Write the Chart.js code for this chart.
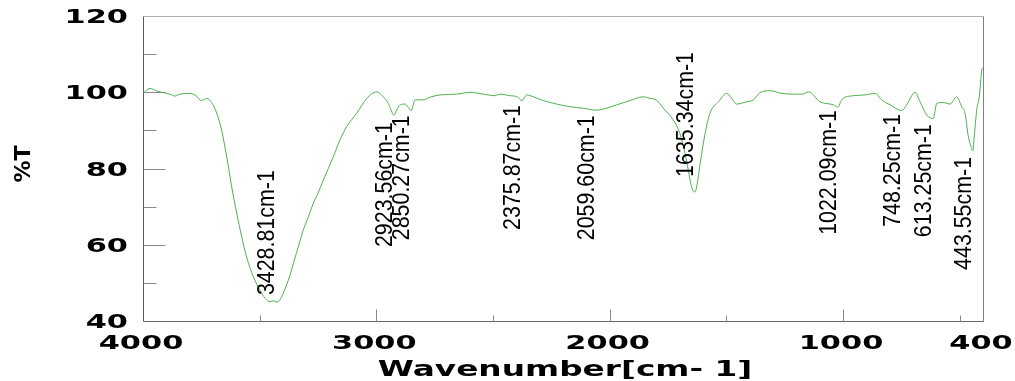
<!DOCTYPE html>
<html>
<head>
<meta charset="utf-8">
<script src="https://cdn.jsdelivr.net/npm/chart.js@4/dist/chart.umd.min.js"></script>
<style>
  html, body { margin: 0; padding: 0; background: #ffffff; }
  #wrap { width: 1015px; height: 381px; }
</style>
</head>
<body>
<div id="wrap"><canvas id="ir" width="1015" height="381"></canvas></div>
<script>
// FT-IR spectrum: wavenumber (cm-1) and transmittance (%T)
const wavenumbers = [
  4000, 3970, 3940, 3913, 3885, 3863, 3841, 3806, 3777, 3749, 3727, 3706,
  3684, 3663, 3649, 3634, 3620, 3598, 3577, 3556, 3527, 3499, 3477, 3456,
  3440, 3428.81, 3415, 3399, 3370, 3356, 3327, 3313, 3290, 3270, 3250, 3227,
  3184, 3156, 3127, 3084, 3041, 2998, 2970, 2949, 2923.56, 2913, 2898, 2877,
  2850.27, 2834, 2799, 2770, 2727, 2656, 2598, 2541, 2491, 2470, 2427, 2396,
  2375.87, 2356, 2327, 2284, 2227, 2170, 2113, 2059.60, 2027, 1970, 1913, 1856,
  1827, 1800, 1770, 1727, 1699, 1677, 1663, 1649, 1635.34, 1627, 1612, 1591,
  1570, 1534, 1498, 1477, 1456, 1413, 1384, 1356, 1313, 1263, 1213, 1173,
  1148, 1098, 1041, 1022.09, 1005, 955, 905, 862, 834, 798, 748.25, 727,
  691, 670, 641, 613.25, 598, 570, 541, 513, 491, 477, 463, 455,
  443.55, 438, 427, 416, 405, 400
];
const transmittance = [
  99.7, 101.0, 100.3, 99.9, 99.5, 99.0, 99.5, 99.7, 99.3, 97.8, 98.4, 97.3,
  94.5, 90.1, 85.7, 80.5, 75.2, 68.2, 62.1, 56.8, 51.6, 48.1, 46.0, 45.1,
  45.3, 45.0, 45.4, 47.3, 52.0, 55.0, 61.0, 63.9, 67.5, 70.9, 73.5, 77.0,
  83.1, 87.5, 91.0, 94.5, 98.4, 100.1, 98.8, 97.1, 94.0, 95.3, 96.7, 96.9,
  95.2, 98.0, 98.0, 98.7, 99.3, 99.5, 100.0, 99.5, 99.1, 99.5, 99.1, 98.8,
  97.8, 99.3, 98.8, 97.8, 96.9, 96.2, 95.8, 95.3, 95.6, 96.7, 97.8, 98.8,
  98.4, 98.0, 95.8, 92.7, 89.2, 84.0, 79.6, 75.2, 73.8, 75.2, 81.4, 89.2,
  94.5, 97.5, 99.7, 98.4, 96.9, 97.5, 98.0, 99.9, 100.4, 99.7, 99.5, 99.5,
  100.1, 97.5, 96.7, 96.1, 98.1, 99.1, 99.3, 99.7, 98.0, 96.7, 95.2, 96.7,
  100.0, 97.5, 94.0, 93.1, 97.1, 97.3, 96.9, 98.8, 96.2, 94.5, 88.4, 86.5,
  84.6, 88.0, 95.3, 98.8, 105.8, 106.5
];

// Picked peaks (wavenumber, cm-1)
const peakWavenumbers = [3428.81, 2923.56, 2850.27, 2375.87, 2059.60, 1635.34, 1022.09, 748.25, 613.25, 443.55];

// Axis tick values
const xTickLabels = [4000, 3000, 2000, 1000, 400];
const xMajorTicks = [3000, 2000, 1000];
const xMinorTicks = [3500, 2500, 1500, 500];
const yTickLabels = [120, 100, 80, 60, 40];
const yMajorTicks = [100, 80, 60];
const yMinorTicks = [110, 90, 70, 50];

// Where each vertical peak caption starts (in %T units along the y scale)
const peakCaptionStart = [46.8, 59.4, 61.2, 63.9, 61.2, 77.8, 62.6, 64.7, 62.0, 53.4];

function stretchedText(ctx, text, x, y, o) {
  ctx.save();
  ctx.translate(x, y);
  if (o.rot) ctx.rotate(o.rot);
  ctx.scale(o.sx || 1, 1);
  ctx.font = o.font;
  ctx.fillStyle = o.color || '#000';
  ctx.textAlign = o.align || 'left';
  ctx.textBaseline = o.baseline || 'alphabetic';
  ctx.fillText(text, 0, 0);
  ctx.restore();
}

const frameAndLabels = {
  id: 'frameAndLabels',
  beforeDatasetsDraw(chart) {
    const ctx = chart.ctx;
    const a = chart.chartArea;
    const xs = chart.scales.x, ys = chart.scales.y;
    ctx.save();
    ctx.lineWidth = 1;
    // frame
    const line = (x1, y1, x2, y2, c) => {
      ctx.strokeStyle = c;
      ctx.beginPath(); ctx.moveTo(x1, y1); ctx.lineTo(x2, y2); ctx.stroke();
    };
    const L = Math.round(a.left) + 0.5, R = Math.round(a.right) + 0.5;
    const T = Math.round(a.top) + 0.5, B = Math.round(a.bottom) + 0.5;
    line(L, T, R, T, '#b0b0b0');
    line(R, T, R, B, '#808080');
    line(L, T, L, B, '#5a5a5a');
    line(L, B, R, B, '#6a6a6a');
    // inward tick marks
    xMajorTicks.forEach(v => { const px = Math.round(xs.getPixelForValue(v)) + 0.5; line(px, B, px, B - 12, '#8a8a8a'); });
    xMinorTicks.forEach(v => { const px = Math.round(xs.getPixelForValue(v)) + 0.5; line(px, B, px, B - 6, '#8a8a8a'); });
    yMajorTicks.forEach(v => { const py = Math.round(ys.getPixelForValue(v)) + 0.5; line(L, py, L + 22, py, '#8a8a8a'); });
    yMinorTicks.forEach(v => { const py = Math.round(ys.getPixelForValue(v)) + 0.5; line(L, py, L + 13, py, '#8a8a8a'); });
    ctx.restore();

    // tick labels
    const tickFont = 'bold 19px "DejaVu Sans"';
    xTickLabels.forEach(v => {
      stretchedText(ctx, String(v), xs.getPixelForValue(v) - 2, a.bottom + 28,
        { font: tickFont, sx: 1.6, align: 'center' });
    });
    yTickLabels.forEach(v => {
      stretchedText(ctx, String(v), a.left - 15, ys.getPixelForValue(v) + 7,
        { font: tickFont, sx: 1.6, align: 'right' });
    });
    // axis titles
    stretchedText(ctx, 'Wavenumber[cm- 1]', (a.left + a.right) / 2 + 2, a.bottom + 55,
      { font: 'bold 21px "DejaVu Sans"', sx: 1.56, align: 'center' });
    stretchedText(ctx, '%T', 30, 164,
      { font: 'bold 22px "DejaVu Sans"', sx: 1.0, align: 'center', rot: -Math.PI / 2 });
  },
  afterDatasetsDraw(chart) {
    const ctx = chart.ctx;
    const xs = chart.scales.x, ys = chart.scales.y;
    peakWavenumbers.forEach((wn, i) => {
      const label = wn.toFixed(2) + 'cm-1';
      stretchedText(ctx, label, xs.getPixelForValue(wn) - 2, ys.getPixelForValue(peakCaptionStart[i]),
        { font: '23px "Liberation Sans"', sx: 0.93, align: 'left', rot: -Math.PI / 2 });
    });
  }
};

new Chart(document.getElementById('ir'), {
  type: 'line',
  data: {
    datasets: [{
      data: wavenumbers.map((w, i) => ({ x: w, y: transmittance[i] })),
      borderColor: 'rgb(78,176,78)',
      borderWidth: 1,
      pointRadius: 0,
      fill: false,
      cubicInterpolationMode: 'monotone'
    }]
  },
  options: {
    responsive: false,
    animation: false,
    devicePixelRatio: 1,
    layout: { padding: { left: 143, right: 32, top: 16, bottom: 60 } },
    plugins: { legend: { display: false }, tooltip: { enabled: false } },
    scales: {
      x: { type: 'linear', reverse: true, min: 400, max: 4000, display: false },
      y: { type: 'linear', min: 40, max: 120, display: false }
    }
  },
  plugins: [frameAndLabels]
});
</script>
</body>
</html>
